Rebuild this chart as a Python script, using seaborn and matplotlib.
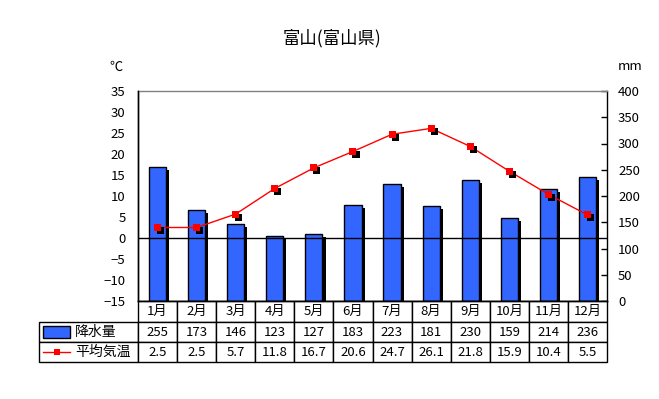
import numpy as np
import pandas as pd
import seaborn as sns
import matplotlib
matplotlib.use("Agg")
import matplotlib.pyplot as plt
import matplotlib.patheffects as pe
from matplotlib.patches import Rectangle
from matplotlib.lines import Line2D
from matplotlib.table import Table

months = ['1月', '2月', '3月', '4月', '5月', '6月', '7月', '8月', '9月', '10月', '11月', '12月']
precip = [255, 173, 146, 123, 127, 183, 223, 181, 230, 159, 214, 236]
temp = [2.5, 2.5, 5.7, 11.8, 16.7, 20.6, 24.7, 26.1, 21.8, 15.9, 10.4, 5.5]
temp_ticks = [-15, -10, -5, 0, 5, 10, 15, 20, 25, 30, 35]
precip_ticks = [0, 50, 100, 150, 200, 250, 300, 350, 400]

title = '富山(富山県)'
precip_label = '降水量'
temp_label = '平均気温'

bar_color = '#3366FF'
line_color = '#FF0000'
bg_color = '#FFFFCC'

plt.rcParams['font.family'] = ['Noto Sans CJK JP', 'DejaVu Sans']
plt.rcParams['font.size'] = 9

df = pd.DataFrame({'month': months, 'precip': precip, 'temp': temp})

fig = plt.figure(figsize=(6.59, 3.99), dpi=100)
# plot area in pixels: x 138..607, y 91..301
W, H = 659, 399
ax = fig.add_axes([138 / W, 1 - 301 / H, (607 - 138) / W, (301 - 91) / H])
ax2 = ax.twinx()

# bars on the right axis (behind), line on the left axis (front)
ax.set_zorder(ax2.get_zorder() + 1)
ax.patch.set_visible(False)
ax2.patch.set_facecolor(bg_color)

shadow = [pe.SimplePatchShadow(offset=(2.2, -2.2), shadow_rgbFace='black', alpha=1), pe.Normal()]

sns.barplot(data=df, x='month', y='precip', ax=ax2, color=bar_color, width=0.44,
            edgecolor='black', linewidth=1, saturation=1)
for p in ax2.patches:
    p.set_path_effects(shadow)

ax.axhline(0, color='black', lw=1, zorder=1)
sns.lineplot(data=df, x='month', y='temp', ax=ax, color=line_color, lw=1, sort=False, zorder=2)
sns.scatterplot(data=df, x='month', y='temp', ax=ax, color=line_color, marker='s', s=26,
                linewidth=0, zorder=3, path_effects=shadow)

ax.set_xlim(-0.5, 11.5)
ax2.set_xlim(-0.5, 11.5)
ax.set_ylim(-15, 35)
ax2.set_ylim(0, 400)
ax.set_yticks(temp_ticks)
ax2.set_yticks(precip_ticks)
ax.set_xticks([])
ax2.set_xticks([])
ax.set_xlabel('')
ax.set_ylabel('')
ax2.set_xlabel('')
ax2.set_ylabel('')

ax.tick_params(axis='y', length=0, pad=9, labelsize=9.5)
ax2.tick_params(axis='y', direction='in', length=4, width=1, pad=8, labelsize=9.5)

for a in (ax, ax2):
    for s in a.spines.values():
        s.set_linewidth(1)
        s.set_color('black')
    a.spines['top'].set_color('#808080')
ax.spines['top'].set_visible(False)
ax.spines['right'].set_visible(False)

# data table under the plot (bbox covers the data cells; row-label column sits to the left)
lab_w = (138 - 39) / 469
tab = Table(ax, bbox=[0, -61 / 210, 1, 61 / 210])
rows = [[str(v) for v in precip], [str(v) for v in temp]]
for j, m in enumerate(months):
    tab.add_cell(0, j, width=1 / 12, height=21 / 210, text=m, loc='center')
for i, r in enumerate(rows, start=1):
    tab.add_cell(i, -1, width=lab_w, height=20 / 210, text='')
    for j, v in enumerate(r):
        tab.add_cell(i, j, width=1 / 12, height=20 / 210, text=v, loc='center')
tab.auto_set_font_size(False)
tab.set_fontsize(9.5)
for c in tab.get_celld().values():
    c.set_edgecolor('black')
    c.set_linewidth(1)
    c.set_facecolor('white')
    c.PAD = 0.02
ax.add_table(tab)

# row labels with legend swatches
tr = ax.transAxes
y_p = -(332 - 301) / 210
y_t = -(352 - 301) / 210
x0, x1 = (43 - 138) / 469, (70 - 138) / 469
ax.add_patch(Rectangle((x0, y_p - 6 / 210), x1 - x0, 12 / 210, transform=tr,
                       facecolor=bar_color, edgecolor='black', lw=1, clip_on=False, zorder=5))
ax.add_line(Line2D([x0, x1], [y_t, y_t], transform=tr, color=line_color, lw=1, clip_on=False, zorder=5))
ax.add_line(Line2D([(x0 + x1) / 2], [y_t], transform=tr, color=line_color, marker='s',
                   markersize=5, markeredgewidth=0, clip_on=False, zorder=5))
ax.text((75 - 138) / 469, y_p, precip_label, transform=tr, ha='left', va='center', fontsize=10, zorder=5)
ax.text((75 - 138) / 469, y_t, temp_label, transform=tr, ha='left', va='center', fontsize=10, zorder=5)

fig.text(332 / W, 1 - 38 / H, title, ha='center', va='center', fontsize=12.5)
fig.text(116 / W, 1 - 67 / H, '℃', ha='center', va='center', fontsize=9.5)
fig.text(630 / W, 1 - 67 / H, 'mm', ha='center', va='center', fontsize=9.5)

fig.savefig('out.png', dpi=100, facecolor='white')
